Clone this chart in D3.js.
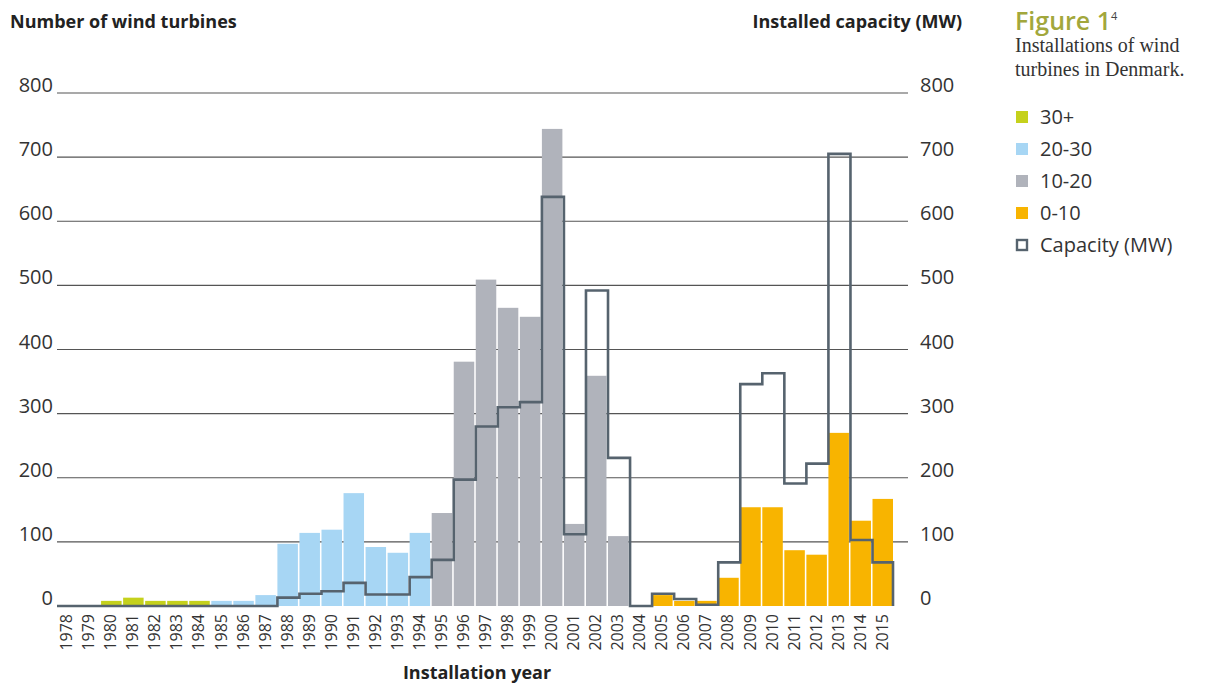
<!DOCTYPE html>
<html>
<head>
<meta charset="utf-8">
<script src="https://cdn.jsdelivr.net/npm/d3@7"></script>
<style>
  body { margin: 0; background: #fff; }
  svg { display: block; font-family: "Open Sans", "DejaVu Sans", sans-serif; }
  .grid line { stroke: #555; stroke-width: 1.2; }
  .tick-label { font-size: 20px; font-weight: 400; fill: #333; }
  .year-label { font-size: 16px; fill: #333; }
  .axis-title { font-size: 18px; font-weight: 700; fill: #222; }
  .caption { font-family: "Liberation Serif", "DejaVu Serif", serif; font-size: 20px; fill: #333; }
  .legend-text { font-size: 20px; fill: #333; }
</style>
</head>
<body>
<div id="chart"></div>
<script>
// Installationsjahre
const years = [
  "1978", "1979", "1980", "1981", "1982", "1983", "1984", "1985", "1986", "1987",
  "1988", "1989", "1990", "1991", "1992", "1993", "1994", "1995", "1996", "1997",
  "1998", "1999", "2000", "2001", "2002", "2003", "2004", "2005", "2006", "2007",
  "2008", "2009", "2010", "2011", "2012", "2013", "2014", "2015"
];

// Anzahl Windturbinen je Jahr
const turbines = [
  0, 0, 8, 13, 8, 8, 8, 8, 8, 17,
  97, 114, 119, 176, 92, 83, 114, 145, 381, 509,
  465, 451, 744, 128, 359, 109, 0, 17, 8, 8,
  44, 154, 154, 87, 80, 270, 133, 167
];

// Größenklasse je Jahr
const sizeClass = [
  "30+", "30+", "30+", "30+", "30+", "30+", "30+", "20-30", "20-30", "20-30",
  "20-30", "20-30", "20-30", "20-30", "20-30", "20-30", "20-30", "10-20", "10-20", "10-20",
  "10-20", "10-20", "10-20", "10-20", "10-20", "10-20", "0-10", "0-10", "0-10", "0-10",
  "0-10", "0-10", "0-10", "0-10", "0-10", "0-10", "0-10", "0-10"
];

// Installierte Leistung (MW)
const capacity = [
  0, 0, 0, 0, 0, 0, 0, 0, 0, 0,
  13, 19, 23, 36, 18, 18, 45, 72, 197, 280,
  310, 318, 638, 112, 492, 231, 0, 19, 11, 2,
  68, 346, 363, 191, 222, 705, 103, 68
];

const yTicks = [0, 100, 200, 300, 400, 500, 600, 700, 800];
const legendKeys = ["30+", "20-30", "10-20", "0-10"];
const classColor = { "30+": "#c5d11c", "20-30": "#a7d6f4", "10-20": "#b0b3bb", "0-10": "#f8b400" };
const lineColor = "#56636e";

const width = 1208, height = 684;
const left = 57, right = 893, gridEnd = 908;

const svg = d3.select("#chart").append("svg")
  .attr("width", width)
  .attr("height", height);

const x = d3.scaleBand().domain(years).range([left, right]).paddingInner(0.07).paddingOuter(0);
const y = d3.scaleLinear().domain([0, 800]).range([606, 93]);

// Gitterlinien
svg.append("g").attr("class", "grid")
  .selectAll("line")
  .data(yTicks.filter(d => d > 0))
  .join("line")
  .attr("x1", left).attr("x2", gridEnd)
  .attr("y1", d => y(d)).attr("y2", d => y(d));

// Achsenbeschriftung links / rechts
svg.append("g").selectAll("text")
  .data(yTicks)
  .join("text")
  .attr("class", "tick-label")
  .attr("x", 53).attr("y", d => y(d) - 1)
  .attr("text-anchor", "end")
  .text(d => d);

svg.append("g").selectAll("text")
  .data(yTicks)
  .join("text")
  .attr("class", "tick-label")
  .attr("x", 920).attr("y", d => y(d) - 1)
  .text(d => d);

// Balken
svg.append("g").selectAll("rect")
  .data(years.map((yr, i) => ({ yr, v: turbines[i], c: sizeClass[i] })).filter(d => d.v > 0))
  .join("rect")
  .attr("x", d => x(d.yr))
  .attr("width", x.bandwidth())
  .attr("y", d => y(d.v))
  .attr("height", d => y(0) - y(d.v))
  .attr("fill", d => classColor[d.c]);

// Leistungs-Stufenlinie
const pts = [];
years.forEach((yr, i) => {
  const x0 = x(yr);
  const x1 = i < years.length - 1 ? x(yr) + x.step() : x(yr) + x.bandwidth();
  pts.push([x0, y(capacity[i])], [x1, y(capacity[i])]);
});
pts.push([x(years[years.length - 1]) + x.bandwidth(), y(0)]);

svg.append("path")
  .attr("d", d3.line()(pts))
  .attr("fill", "none")
  .attr("stroke", lineColor)
  .attr("stroke-width", 2.6)
  .attr("stroke-linejoin", "miter");

// Jahreszahlen
svg.append("g").selectAll("text")
  .data(years)
  .join("text")
  .attr("class", "year-label")
  .attr("text-anchor", "end")
  .attr("transform", d => `translate(${x(d) + x.bandwidth() / 2 + 5},614) rotate(-90)`)
  .text(d => d);

// Titel
svg.append("text").attr("class", "axis-title").attr("x", 10).attr("y", 28).text("Number of wind turbines");
svg.append("text").attr("class", "axis-title").attr("x", 962).attr("y", 28).attr("text-anchor", "end").text("Installed capacity (MW)");
svg.append("text").attr("class", "axis-title").attr("x", 477).attr("y", 679).attr("text-anchor", "middle").text("Installation year");

const fig = svg.append("text").attr("x", 1015).attr("y", 30)
  .style("font-size", "25px").style("font-weight", 600).attr("fill", "#a2a73c");
fig.append("tspan").text("Figure 1");
fig.append("tspan").attr("dy", -10).style("font-size", "11px").style("font-weight", 400).attr("fill", "#444").text("4");

svg.append("text").attr("class", "caption").attr("x", 1015).attr("y", 52).text("Installations of wind");
svg.append("text").attr("class", "caption").attr("x", 1015).attr("y", 76).text("turbines in Denmark.");

// Legende
const legend = svg.append("g");
legendKeys.forEach((k, i) => {
  const cy = 117 + i * 32;
  legend.append("rect").attr("x", 1016).attr("y", cy - 6).attr("width", 12).attr("height", 12).attr("fill", classColor[k]);
  legend.append("text").attr("class", "legend-text").attr("x", 1040).attr("y", cy + 7).text(k);
});
const cyCap = 117 + 4 * 32;
legend.append("rect").attr("x", 1017).attr("y", cyCap - 5).attr("width", 10).attr("height", 10)
  .attr("fill", "none").attr("stroke", lineColor).attr("stroke-width", 2.4);
legend.append("text").attr("class", "legend-text").attr("x", 1040).attr("y", cyCap + 7).text("Capacity (MW)");
</script>
</body>
</html>
